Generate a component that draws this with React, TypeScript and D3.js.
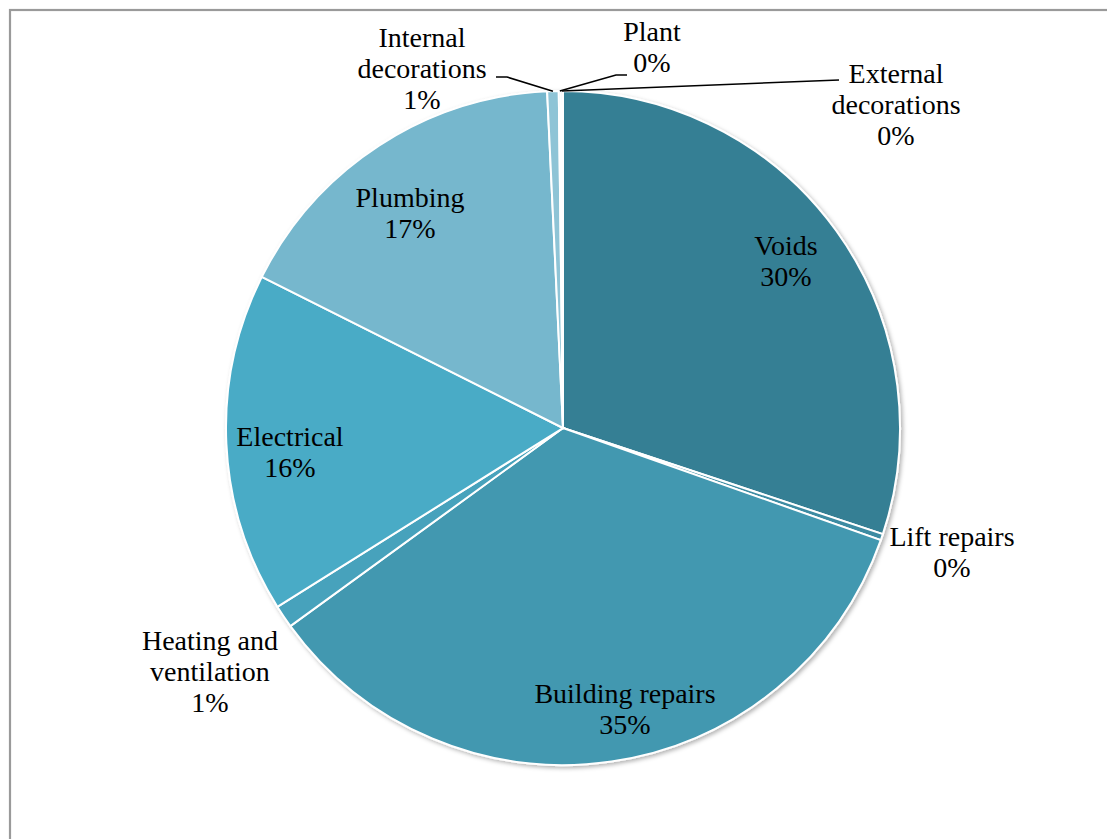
import React from "react";
import * as d3 from "d3";

const categories = [
  "Voids",
  "Lift repairs",
  "Building repairs",
  "Heating and ventilation",
  "Electrical",
  "Plumbing",
  "Internal decorations",
  "Plant",
  "External decorations",
];
const values = [30.1, 0.3, 34.6, 1.1, 16.3, 16.85, 0.55, 0.1, 0.1];
const colors = [
  "#367f94",
  "#3c8ba2",
  "#4398b0",
  "#46a2bc",
  "#4aabc6",
  "#76b7cd",
  "#8ec4d6",
  "#a3cfde",
  "#b6d9e6",
];

// layout of labels (first baseline, centre x), wrap = split at last space
const labelLayout: Record<string, { x: number; y: number; wrap: boolean; leader?: number[][] }> = {
  Voids: { x: 786, y: 255, wrap: false },
  "Lift repairs": { x: 952, y: 546, wrap: false },
  "Building repairs": { x: 625, y: 703, wrap: false },
  "Heating and ventilation": { x: 210, y: 650, wrap: true },
  Electrical: { x: 290, y: 446, wrap: false },
  Plumbing: { x: 410, y: 207, wrap: false },
  "Internal decorations": { x: 422, y: 47, wrap: true, leader: [[496, 77], [507, 77]] },
  Plant: { x: 652, y: 41, wrap: false, leader: [[627, 75], [616, 75]] },
  "External decorations": { x: 896, y: 83, wrap: true, leader: [[839, 80]] },
};

const W = 1107;
const H = 839;
const CX = 563;
const CY = 428;
const R = 337;
const LINE = 31;

export default function App() {
  const total = d3.sum(values);
  const data = categories.map((c, i) => ({ name: c, value: values[i], color: colors[i] }));
  const pie = d3
    .pie<any>()
    .sort(null)
    .value((d: any) => d.value)
    .startAngle(0)
    .endAngle(2 * Math.PI);
  const arcs = pie(data);
  const arc = d3.arc<any>().innerRadius(0).outerRadius(R);
  const edge = d3.arc<any>().innerRadius(R).outerRadius(R);

  return (
    <svg
      width={W}
      height={H}
      style={{ position: "absolute", left: 0, top: 0, background: "#fff" }}
      fontFamily="'Liberation Serif', 'Times New Roman', serif"
    >
      <defs>
        <filter id="sh" x="-10%" y="-10%" width="120%" height="120%">
          <feDropShadow dx="2" dy="2" stdDeviation="2" floodColor="#000" floodOpacity="0.3" />
        </filter>
      </defs>
      <rect x={10} y={10} width={1300} height={1100} fill="none" stroke="#9a9a9a" strokeWidth={2.2} />
      <g transform={`translate(${CX},${CY})`} filter="url(#sh)">
        {arcs.map((a, i) => (
          <path key={i} d={arc(a) as string} fill={a.data.color} stroke="#fff" strokeWidth={2} />
        ))}
      </g>
      {arcs.map((a, i) => {
        const lay = labelLayout[a.data.name];
        if (!lay) return null;
        const name: string = a.data.name;
        let lines: string[];
        if (lay.wrap) {
          const k = name.lastIndexOf(" ");
          lines = [name.slice(0, k), name.slice(k + 1)];
        } else lines = [name];
        lines.push(Math.round((a.data.value / total) * 100) + "%");
        let leader = null;
        if (lay.leader) {
          const [ex, ey] = edge.centroid(a);
          const pts = [...lay.leader, [CX + ex, CY + ey]];
          leader = (
            <polyline
              points={pts.map((p) => p.join(",")).join(" ")}
              fill="none"
              stroke="#000"
              strokeWidth={1.6}
            />
          );
        }
        return (
          <g key={"l" + i}>
            {leader}
            <text textAnchor="middle" fontSize={28} fill="#000">
              {lines.map((t, j) => (
                <tspan key={j} x={lay.x} y={lay.y + j * LINE}>
                  {t}
                </tspan>
              ))}
            </text>
          </g>
        );
      })}
    </svg>
  );
}
